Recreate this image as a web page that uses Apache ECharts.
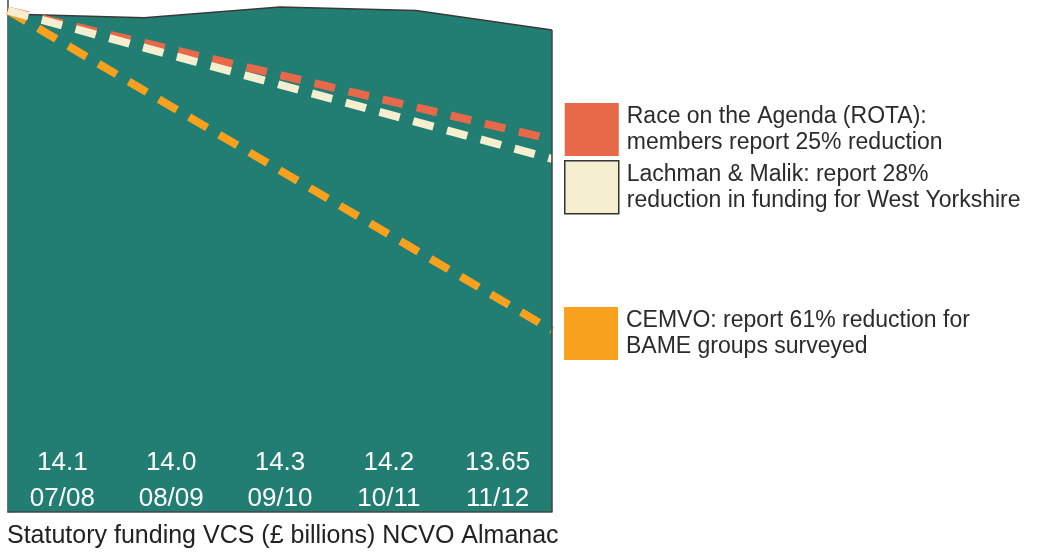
<!DOCTYPE html>
<html>
<head>
<meta charset="utf-8">
<script src="https://cdn.jsdelivr.net/npm/echarts@6/dist/echarts.min.js"></script>
<style>
  html, body { margin: 0; padding: 0; background: #fff; }
  #chart { width: 1043px; height: 554px; }
</style>
</head>
<body>
<div id="chart"></div>
<script>
// statutory funding VCS, £ billions
const years = ['07/08', '08/09', '09/10', '10/11', '11/12'];
const funding = [14.1, 14.0, 14.3, 14.2, 13.65];

// reported reductions, drawn from first year to last year
const trendYears = [0, 4];
const rotaTrend = [14.2, 10.55];
const lachmanTrend = [14.2, 10.0];
const cemvoTrend = [14.2, 5.15];

const legendNames = {
  'ROTA': 'Race on the Agenda (ROTA):\nmembers report 25% reduction',
  'Lachman': 'Lachman & Malik: report 28%\nreduction in funding for West Yorkshire',
  'CEMVO': 'CEMVO: report 61% reduction for\nBAME groups surveyed'
};
const footnote = 'Statutory funding VCS (£ billions) NCVO Almanac';

const font = '"Liberation Sans", sans-serif';

const chart = echarts.init(document.getElementById('chart'));

function pairs(xs, ys) {
  return xs.map((x, i) => [x, ys[i]]);
}

function fmt(v) {
  // 14 -> 14.0, 13.65 stays
  return Number.isInteger(v * 10) ? v.toFixed(1) : String(v);
}

const legendText = {
  fontFamily: font,
  fontSize: 23,
  lineHeight: 26,
  color: '#2b2b2b',
  padding: [0, 0, 0, 3]
};

const dash = [21, 14];

chart.setOption({
  animation: false,
  title: {
    text: footnote,
    left: 7,
    top: 524,
    padding: 0,
    textStyle: { fontFamily: font, fontSize: 25, fontWeight: 'normal', color: '#222' }
  },
  legend: [
    {
      data: [
        { name: 'ROTA', itemStyle: { borderWidth: 0 } },
        { name: 'Lachman', itemStyle: { borderColor: '#333', borderWidth: 1.5 } }
      ],
      orient: 'vertical',
      left: 564,
      top: 103,
      padding: 0,
      icon: 'rect',
      itemWidth: 54,
      itemHeight: 53,
      itemGap: 4,
      selectedMode: false,
      formatter: name => legendNames[name],
      textStyle: legendText
    },
    {
      data: [{ name: 'CEMVO', itemStyle: { borderWidth: 0 } }],
      orient: 'vertical',
      left: 564,
      top: 307,
      padding: 0,
      icon: 'rect',
      itemWidth: 54,
      itemHeight: 53,
      selectedMode: false,
      formatter: name => legendNames[name],
      textStyle: legendText
    }
  ],
  grid: { left: 8, right: 491, top: 0, bottom: 42 },
  xAxis: [
    {
      type: 'category',
      data: years,
      boundaryGap: true,
      axisLine: { show: true, lineStyle: { color: '#444', width: 1.5 } },
      axisTick: { show: false },
      axisLabel: {
        inside: true,
        margin: -5,
        color: '#fff',
        fontFamily: font,
        fontSize: 26,
        lineHeight: 36,
        formatter: (v, i) => fmt(funding[i]) + '\n' + v
      },
      z: 10
    },
    {
      type: 'value',
      min: 0,
      max: 4,
      show: false
    }
  ],
  yAxis: {
    type: 'value',
    min: 0,
    max: 14.5,
    axisLine: { show: true, lineStyle: { color: '#444', width: 1.5 } },
    axisTick: { show: false },
    axisLabel: { show: false },
    splitLine: { show: false }
  },
  series: [
    {
      name: 'Funding',
      type: 'line',
      xAxisIndex: 1,
      data: funding.map((v, i) => [i, v]),
      symbol: 'none',
      lineStyle: { color: '#3a3a3a', width: 1.5 },
      areaStyle: { color: '#227D73', opacity: 1 },
      markLine: {
        silent: true,
        symbol: 'none',
        label: { show: false },
        lineStyle: { color: '#444', width: 1.5, type: 'solid' },
        data: [[{ coord: [funding.length - 1, 0] }, { coord: [funding.length - 1, funding[funding.length - 1]] }]]
      }
    },
    {
      name: 'ROTA',
      type: 'line',
      xAxisIndex: 1,
      data: pairs(trendYears, rotaTrend),
      symbol: 'none',
      itemStyle: { color: '#E8694A' },
      lineStyle: { color: '#E8694A', width: 8, type: dash }
    },
    {
      name: 'CEMVO',
      type: 'line',
      xAxisIndex: 1,
      data: pairs(trendYears, cemvoTrend),
      symbol: 'none',
      itemStyle: { color: '#F7A11F' },
      lineStyle: { color: '#F7A11F', width: 8, type: dash }
    },
    {
      name: 'Lachman',
      type: 'line',
      xAxisIndex: 1,
      data: pairs(trendYears, lachmanTrend),
      symbol: 'none',
      itemStyle: { color: '#F5EFD0' },
      lineStyle: { color: '#F5EFD0', width: 8, type: dash }
    }
  ]
});
</script>
</body>
</html>
